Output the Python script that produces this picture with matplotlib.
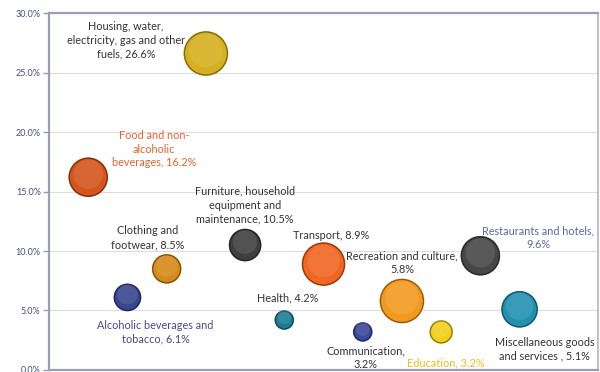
"""
Bubble chart of household expenditure shares by category
"""

import matplotlib.pyplot as plt
import matplotlib.ticker as mticker
import numpy as np

#---------------------------------------------------------------------------------------------------
# Data
#---------------------------------------------------------------------------------------------------

categories = ['Food and non-\nalcoholic\nbeverages',
              'Alcoholic beverages and\ntobacco',
              'Clothing and\nfootwear',
              'Housing, water,\nelectricity, gas and other\nfuels',
              'Furniture, household\nequipment and\nmaintenance',
              'Health',
              'Transport',
              'Communication,\n',
              'Recreation and culture,\n',
              'Education',
              'Restaurants and hotels,\n',
              'Miscellaneous goods\nand services ']
share = [16.2, 6.1, 8.5, 26.6, 10.5, 4.2, 8.9, 3.2, 5.8, 3.2, 9.6, 5.1]
# relative bubble weight
bubble_weight = [14.4, 6.8, 7.8, 18.5, 9.6, 3.2, 17.6, 3.2, 18.5, 4.8, 14.4, 12.3]
yticks = [0, 5, 10, 15, 20, 25, 30]

#---------------------------------------------------------------------------------------------------
# Styles
#---------------------------------------------------------------------------------------------------

bub_colors = ['#d4551d', '#37468f', '#d68a1a', '#d6b11f', '#3f3f3f', '#1e7d92',
              '#f26522', '#3a4a9c', '#f29a1f', '#f3d01c', '#474747', '#2490b0']
lab_colors = ['#e8622c', '#434b8a', '#333333', '#333333', '#333333', '#333333',
              '#333333', '#333333', '#333333', '#e4c21c', '#586aa0', '#333333']
# label centre offsets from bubble centre (pixels)
lab_off = [(66, 28), (28, -35), (-19, 31), (-80, 13), (0, 40), (3, 22),
           (8, 29), (3, -26), (0, 38), (5, -31), (58, 18), (25, -40)]

plt.rcParams['font.family'] = ['Lato', 'DejaVu Sans']

fig = plt.figure(figsize=(6, 3.72), dpi=100)
ax = fig.add_axes([0.0817, 0.0054, 0.915, 0.9596])

x = np.arange(1, len(share) + 1)
sizes = np.array(bubble_weight) * 51.84

ax.grid(axis='y', color='#dcdcdc', lw=0.8, zorder=0)
ax.scatter(x, share, s=sizes, c=bub_colors, edgecolors=bub_colors,
           linewidths=1.2, zorder=3)
# darker rim and soft highlight for a shaded look
ax.scatter(x, share, s=sizes, facecolors='none', edgecolors='k', alpha=0.4,
           linewidths=1.0, zorder=4)
ax.scatter(x, np.array(share) + 0.25, s=sizes * 0.6, c='white', alpha=0.1,
           linewidths=0, zorder=4)

for i in range(len(share)):
    txt = categories[i]
    if txt.endswith('\n'):
        txt = txt + '%.1f%%' % share[i]
    else:
        txt = txt + ', %.1f%%' % share[i]
    ax.annotate(txt, (x[i], share[i]), xytext=lab_off[i], textcoords='offset pixels',
                ha='center', va='center', multialignment='center', fontsize=7.8,
                color=lab_colors[i], linespacing=1.3, zorder=5)

ax.set_xlim(0, 14)
ax.set_ylim(0, 30)
ax.set_xticks([])
ax.set_yticks(yticks)
ax.yaxis.set_major_formatter(mticker.FuncFormatter(lambda v, p: '%.1f%%' % v))
ax.tick_params(axis='y', labelsize=6.5, labelcolor='#44507a', color='#9a9ab2',
               length=4, width=1, pad=2)

for side in ['left', 'bottom', 'top']:
    ax.spines[side].set_color('#9c9cb4')
    ax.spines[side].set_linewidth(1.6)
ax.spines['right'].set_color('#b4b4c4')
ax.spines['right'].set_linewidth(1.2)

plt.savefig('out.png', dpi=100)
